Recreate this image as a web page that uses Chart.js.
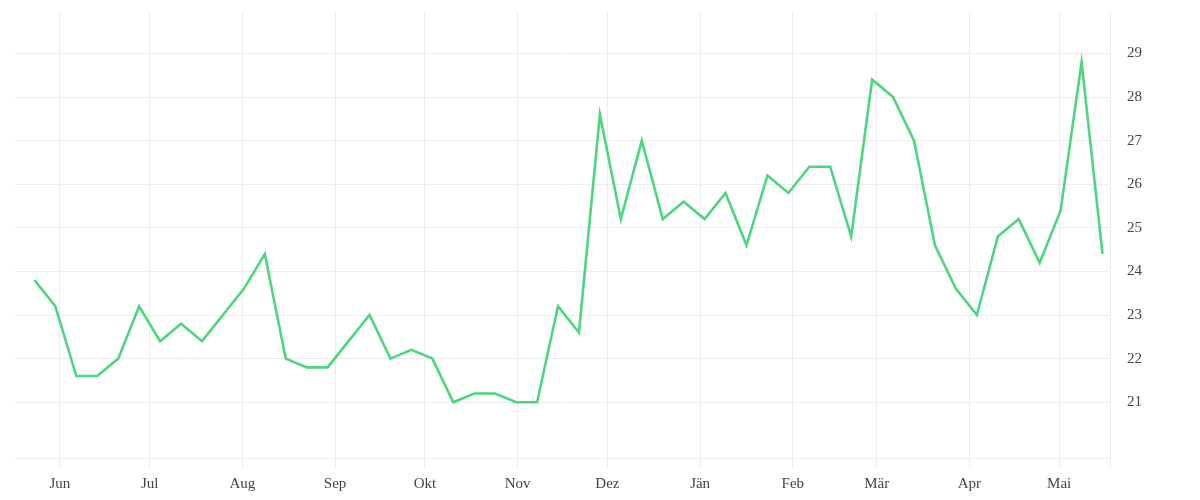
<!DOCTYPE html>
<html>
<head>
<meta charset="utf-8">
<script src="https://cdn.jsdelivr.net/npm/chart.js@4"></script>
<style>
html,body{margin:0;padding:0;background:#fff;}
#wrap{width:1200px;height:500px;position:relative;}
</style>
</head>
<body>
<div id="wrap"><canvas id="grafikTemperatur"></canvas></div>
<script>
// weekly values, first week starts 23 May
const werte=[23.8,23.2,21.6,21.6,22.0,23.2,22.4,22.8,22.4,23.0,23.6,24.4,22.0,21.8,21.8,22.4,23.0,22.0,22.2,22.0,21.0,21.2,21.2,21.0,21.0,23.2,22.6,27.6,25.2,27.0,25.2,25.6,25.2,25.8,24.6,26.2,25.8,26.4,26.4,24.8,28.4,28.0,27.0,24.6,23.6,23.0,24.8,25.2,24.2,25.4,28.8,24.4];
const monate=["Jun","Jul","Aug","Sep","Okt","Nov","Dez","Jän","Feb","Mär","Apr","Mai"];
const monatsAnfang=["2018-06-01","2018-07-01","2018-08-01","2018-09-01","2018-10-01","2018-11-01","2018-12-01","2019-01-01","2019-02-01","2019-03-01","2019-04-01","2019-05-01"];
const yTicks=[21,22,23,24,25,26,27,28,29];

const start=Date.UTC(2018,4,23);
const tag=86400000;
const tage=function(s){return (Date.parse(s+"T00:00:00Z")-start)/tag;};

const punkte=werte.map(function(v,i){return {x:i*7+0.5,y:v};});
const monatTicks=monatsAnfang.map(tage);

const xMin=-6, xMax=360;
const gitter="#ececec";
const schrift={family:"'Liberation Serif', serif",size:15};

const ctx=document.getElementById("grafikTemperatur");

new Chart(ctx,{
type:"line",
data:{
datasets:[{
data:punkte,
borderColor:"#4cd67e",
borderWidth:2.6,
pointRadius:0,
tension:0,
fill:false
}]
},
options:{
responsive:true,
maintainAspectRatio:false,
animation:false,
layout:{padding:{left:15,top:0,right:0,bottom:0}},
plugins:{legend:{display:false},tooltip:{enabled:false}},
scales:{
x:{
type:"linear",
min:xMin,
max:xMax,
afterBuildTicks:function(scale){
scale.ticks=monatTicks.map(function(v){return {value:v};}).concat([{value:xMax}]);
},
afterFit:function(scale){scale.height=42;},
grid:{color:gitter,lineWidth:1,drawTicks:true,tickLength:10},
border:{display:true,color:gitter},
ticks:{
autoSkip:false,
maxRotation:0,
padding:7,
color:"#444",
font:schrift,
callback:function(value,index){return monate[index]||"";}
}
},
y:{
position:"right",
min:19.72,
max:29.94,
afterBuildTicks:function(scale){
scale.ticks=yTicks.map(function(v){return {value:v};});
},
afterFit:function(scale){scale.width=90;scale.paddingTop=12.5;scale.paddingBottom=0;},
grid:{color:gitter,lineWidth:1,drawTicks:false},
border:{display:false},
ticks:{
padding:17,
color:"#444",
font:schrift,
callback:function(value){return value;}
}
}
}
}
});
</script>
</body>
</html>
